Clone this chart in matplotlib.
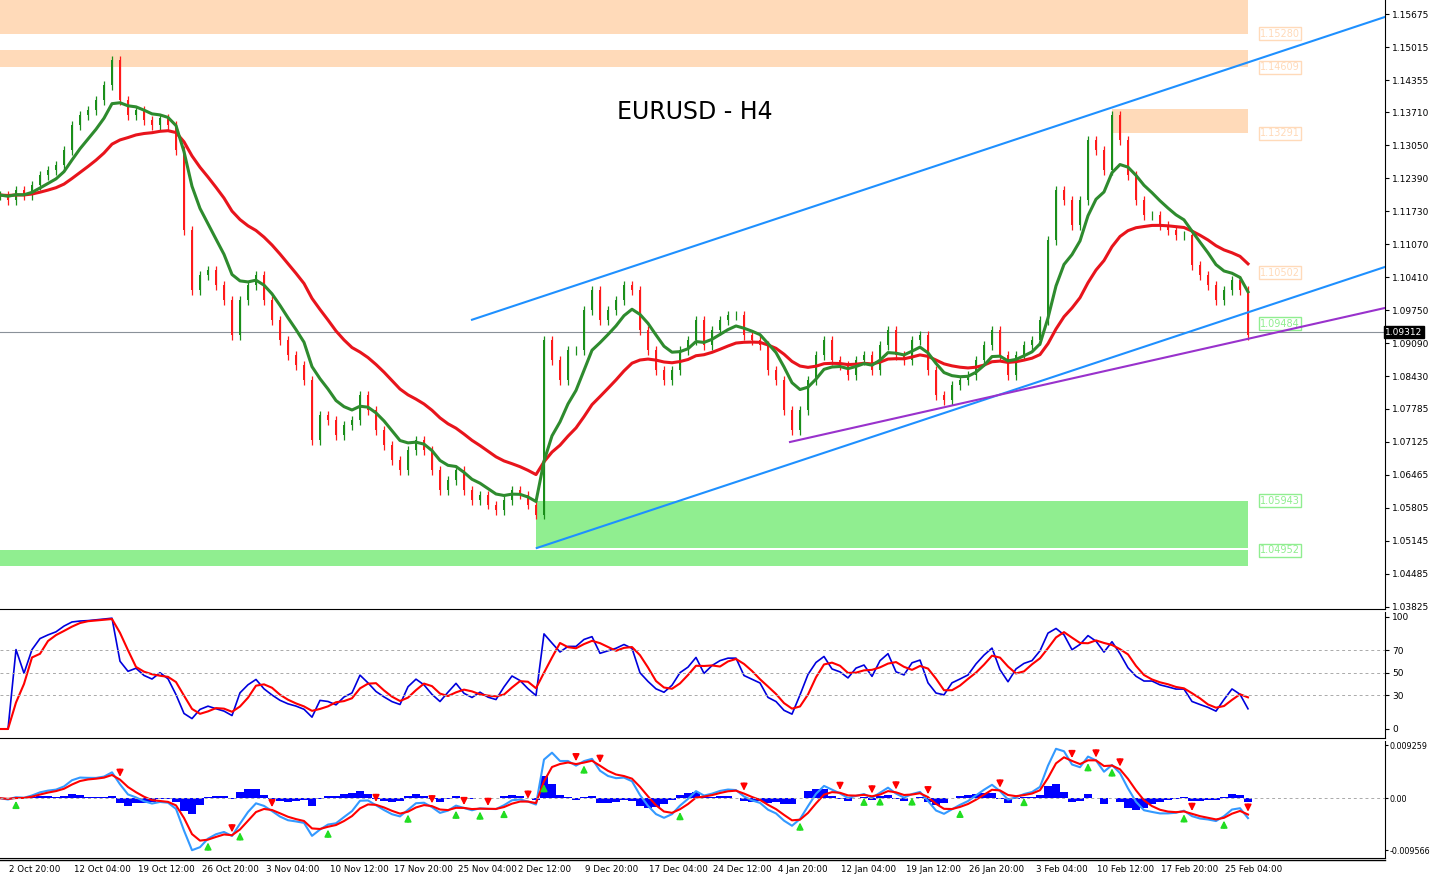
import numpy as np, pandas as pd, matplotlib
matplotlib.use("Agg")
import matplotlib.pyplot as plt
from matplotlib.patches import Rectangle

# closes (pixel rows converted to price), one per coarse bar
close_px = [195,200,190,195,185,175,170,165,150,125,115,110,100,85,60,100,115,110,120,125,118,125,150,230,290,275,270,285,300,335,
            300,285,275,300,320,340,355,365,380,440,415,420,435,425,420,395,410,430,445,460,470,450,440,450,470,490,480,470,490,500,
            495,505,510,500,490,495,505,515,340,360,380,350,350,310,290,320,310,300,285,290,330,350,370,380,370,350,340,320,345,330,
            320,315,315,335,340,345,370,380,410,430,410,380,355,340,360,365,375,360,355,370,345,330,355,360,340,335,370,395,400,385,
            380,375,360,345,330,355,375,355,345,340,320,240,190,200,225,200,140,150,170,115,140,175,200,215,215,225,230,235,235,265,
            275,285,300,290,280,290,335]
closes = [round(1.15675 - (p - 14) * 0.0002, 5) for p in close_px]
date_labels = ["2 Oct 20:00","12 Oct 04:00","19 Oct 12:00","26 Oct 20:00","3 Nov 04:00","10 Nov 12:00","17 Nov 20:00",
               "25 Nov 04:00","2 Dec 12:00","9 Dec 20:00","17 Dec 04:00","24 Dec 12:00","4 Jan 20:00","12 Jan 04:00",
               "19 Jan 12:00","26 Jan 20:00","3 Feb 04:00","10 Feb 12:00","17 Feb 20:00","25 Feb 04:00"]
date_pos = [35,102,166,230,293,359,423,487,545,612,678,742,803,869,933,997,1062,1126,1190,1254]
price_ticks = [1.15675,1.15015,1.14355,1.13710,1.13050,1.12390,1.11730,1.11070,1.10410,1.09750,1.09090,1.08430,
               1.07785,1.07125,1.06465,1.05805,1.05145,1.04485,1.03825]
supply_zones = [(0,1.1595,1.1528,"1.15280"),(0,1.1495,1.14609,"1.14609"),(139,1.1377,1.13291,"1.13291")]
demand_zones = [(67,1.05943,1.0500,"1.05943"),(0,1.04952,1.0463,"1.04952")]
trend_blue = [((59,1.0956),(173.1,1.15615)),((67.1,1.04995),(173.1,1.10615))]
trend_purple = [(98.75,1.07115),(173.1,1.09795)]
last_price = 1.09312
bw = 8.0  # pixels per bar
N = len(closes)
c = pd.Series(closes)
o = c.shift(1).fillna(c.iloc[0])
hi = np.maximum(o, c) + 0.0009
lo = np.minimum(o, c) - 0.0009
ema_g = c.ewm(span=7, adjust=False).mean()
ema_r = c.ewm(span=20, adjust=False).mean()
d = c.diff().fillna(0)
up = d.clip(lower=0).ewm(alpha=1/6, adjust=False).mean()
dn = (-d.clip(upper=0)).ewm(alpha=1/6, adjust=False).mean()
rsi = 100 - 100/(1 + up/(dn+1e-9))
rsi_sig = rsi.rolling(3, min_periods=1).mean()
macd = c.ewm(span=3, adjust=False).mean() - c.ewm(span=7, adjust=False).mean()
macd_sig = macd.ewm(span=3, adjust=False).mean()
hist = macd - macd_sig

W, H = 1430, 882
fig = plt.figure(figsize=(14.3, 8.82), dpi=100)
R = 1385/W
ax = fig.add_axes([0, 1-609/H, R, 609/H])
ax2 = fig.add_axes([0, 1-738/H, R, 126/H])
ax3 = fig.add_axes([0, 1-858/H, R, 117/H])
xmax = 1385/bw
x = np.arange(N) * 1.0
for a in (ax, ax2, ax3):
    a.set_xlim(0, xmax)
    a.yaxis.tick_right()
    a.tick_params(axis='y', labelsize=6.5, length=3, pad=2)
    for s in ("top", "left"):
        a.spines[s].set_visible(False)
    a.set_xticks([])

# zones
for x0, top, bot, lab in supply_zones:
    ax.add_patch(Rectangle((x0, bot), 1248/bw - x0, top-bot, color="#FFDAB9", lw=0, zorder=0))
    ax.text(1260/bw, bot, lab, fontsize=7, color="#FFDAB9", va="center",
            bbox=dict(fc="white", ec="#FFDAB9", pad=1))
for x0, top, bot, lab in demand_zones:
    ax.add_patch(Rectangle((x0, bot), 1248/bw - x0, top-bot, color="#90EE90", lw=0, zorder=0))
    ax.text(1260/bw, top, lab, fontsize=7, color="#90EE90", va="center",
            bbox=dict(fc="white", ec="#90EE90", pad=1))
ax.text(1260/bw, 1.10502, "1.10502", fontsize=7, color="#FFDAB9", va="center", bbox=dict(fc="white", ec="#FFDAB9", pad=1))
ax.text(1260/bw, 1.09484, "1.09484", fontsize=7, color="#90EE90", va="center", bbox=dict(fc="white", ec="#90EE90", pad=1))
ax.axhline(last_price, color="#8a9199", lw=0.8, zorder=1)

# candles
for i in range(N):
    col = "#1a8f1a" if c[i] >= o[i] else "#ff1a1a"
    ax.vlines(x[i], lo[i], hi[i], color=col, lw=0.9, zorder=2)
    ax.add_patch(Rectangle((x[i]-0.18, min(o[i], c[i])), 0.36, max(abs(c[i]-o[i]), 0.00005), color=col, lw=0, zorder=2))
ax.plot(x, ema_r, color="#e8141c", lw=2.2, zorder=3)
ax.plot(x, ema_g, color="#2e8b2e", lw=2.2, zorder=3)
for (a0, b0) in trend_blue:
    ax.plot([a0[0], b0[0]], [a0[1], b0[1]], color="#1e90ff", lw=1.5, zorder=4)
ax.plot([trend_purple[0][0], trend_purple[1][0]], [trend_purple[0][1], trend_purple[1][1]], color="#9932cc", lw=1.5, zorder=4)
ax.set_ylim(1.03775, 1.15955)
ax.set_yticks(price_ticks)
ax.set_yticklabels([f"{v:.5f}" for v in price_ticks])
ax.text(1.0, last_price, f"{last_price:.5f}", transform=ax.get_yaxis_transform(), fontsize=6.5, color="white",
        va="center", ha="left", bbox=dict(fc="black", ec="black", pad=1), zorder=10)
ax.text(695/bw, 1.15675-(112-14)*0.0002, "EURUSD - H4", fontsize=17, ha="center", va="center")

# RSI
ax2.plot(x, rsi, color="#0000dd", lw=1.2)
ax2.plot(x, rsi_sig, color="#ff0000", lw=1.5)
for lv in (70, 50, 30):
    ax2.axhline(lv, color="#aaaaaa", ls=(0, (3, 3)), lw=0.7)
ax2.set_ylim(-8, 104)
ax2.set_yticks([100, 70, 50, 30, 0])

# MACD
ax3.bar(x, hist, width=0.9, color="#0000ff")
ax3.plot(x, macd, color="#3399ff", lw=1.5)
ax3.plot(x, macd_sig, color="#ff0000", lw=1.5)
ax3.axhline(0, color="#aaaaaa", ls=(0, (3, 3)), lw=0.7)
m = max(abs(macd).max(), abs(macd_sig).max())
ax3.set_ylim(-m*1.15, m*1.1)
ax3.set_yticks([m*1.02, 0, -m*1.0])
ax3.set_yticklabels(["0.009259", "0.00", "-0.009566"], fontsize=5.8)
ax3.tick_params(axis='y', length=2, pad=1)
# crossover arrows
for i in range(1, N):
    if macd[i-1] > macd_sig[i-1] and macd[i] <= macd_sig[i]:
        ax3.annotate("", xy=(x[i], macd_sig[i]), xytext=(x[i], macd_sig[i]+m*0.25),
                     arrowprops=dict(arrowstyle="-|>", color="red", lw=1.2))
    if macd[i-1] < macd_sig[i-1] and macd[i] >= macd_sig[i]:
        ax3.annotate("", xy=(x[i], macd_sig[i]), xytext=(x[i], macd_sig[i]-m*0.25),
                     arrowprops=dict(arrowstyle="-|>", color="#22dd22", lw=1.2))

for px, lab in zip(date_pos, date_labels):
    fig.text(px/W, 1-869/H, lab, fontsize=6.3, ha="center", va="center")
fig.add_artist(plt.Line2D([0, R], [1-860/H, 1-860/H], color="black", lw=1))
fig.savefig("out.png", dpi=100)
